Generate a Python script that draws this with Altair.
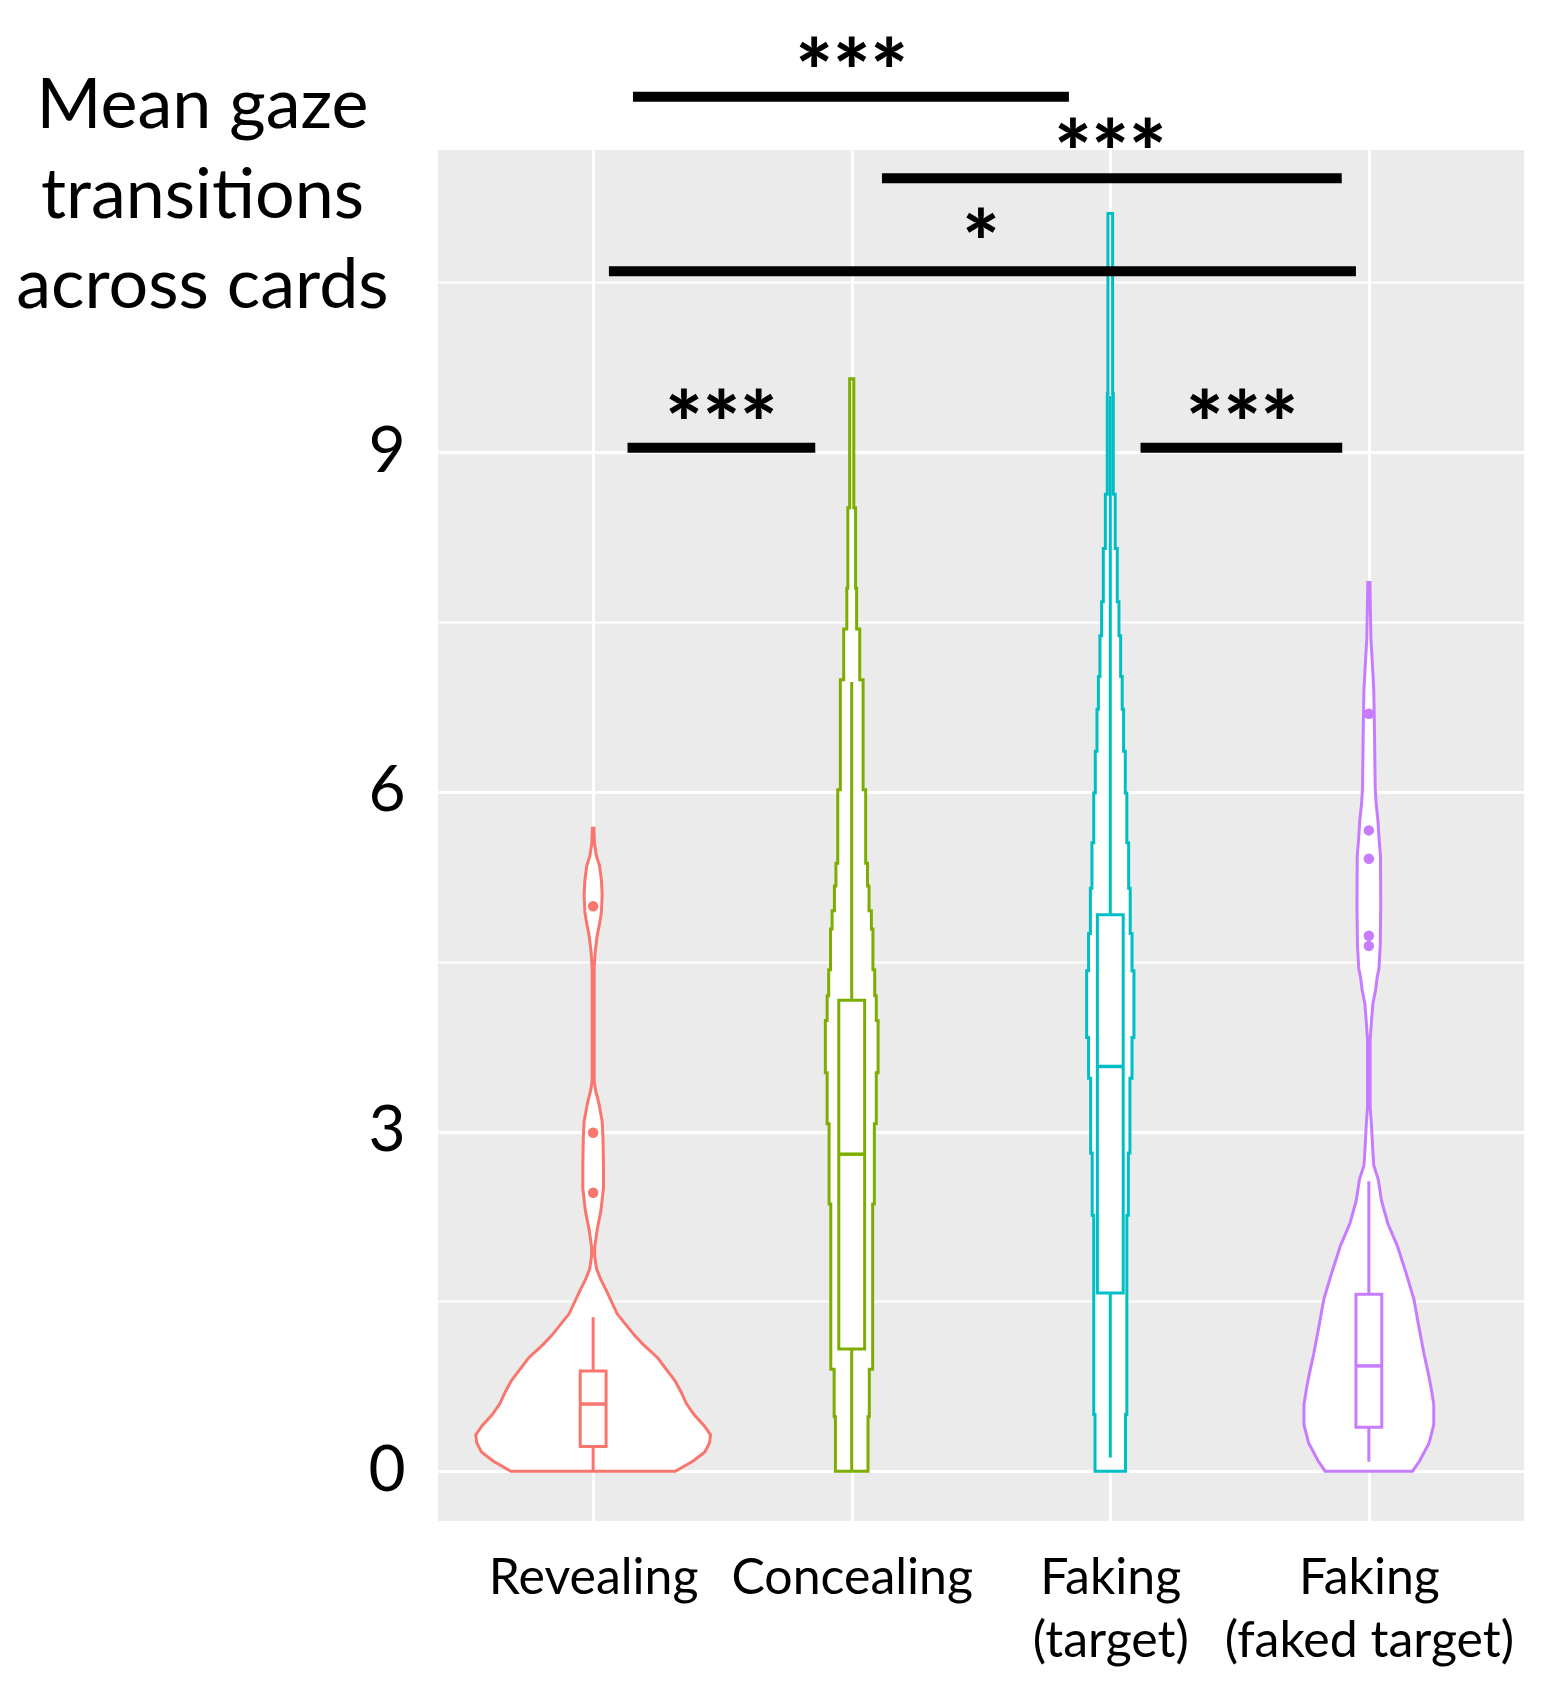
import json
import altair as alt
import pandas as pd

# ---------------- data ----------------
cat_keys = ["Revealing", "Concealing", "Faking (target)", "Faking (faked target)"]
cat_label_lines = [["Revealing"], ["Concealing"], ["Faking", "(target)"], ["Faking", "(faked target)"]]
cat_pos = [1, 2, 3, 4]
cat_colors = ["#F8766D", "#7CAE00", "#00BFC4", "#C77CFF"]

# violin outlines: value and half width (category-spacing units)
rev_y = [0.00, 0.09, 0.17, 0.25, 0.32, 0.40, 0.50, 0.60, 0.70, 0.80, 1.00, 1.12, 1.20, 1.39,
         1.59, 1.70, 1.79, 1.90, 1.98, 2.14, 2.30, 2.50, 2.70, 2.95, 3.09, 3.25, 3.37, 3.45,
         4.45, 4.59, 4.73, 4.85, 4.94, 5.09, 5.22, 5.35, 5.43, 5.55, 5.68]
rev_w = [0.318, 0.387, 0.432, 0.450, 0.454, 0.430, 0.390, 0.360, 0.340, 0.316, 0.250, 0.193, 0.160, 0.093,
         0.052, 0.028, 0.013, 0.006, 0.006, 0.016, 0.030, 0.040, 0.040, 0.038, 0.035, 0.022, 0.009, 0.004,
         0.004, 0.008, 0.0155, 0.026, 0.032, 0.035, 0.032, 0.0245, 0.013, 0.005, 0.003]

# stair-stepped outlines: interval edges and half width on each interval
con_edges = [0.00, 0.18, 0.48, 0.90, 2.36, 3.07, 3.52, 3.98, 4.20, 4.43, 4.79, 4.95, 5.17,
             5.37, 6.02, 6.99, 7.44, 7.80, 8.51, 9.65]
con_w = [0.063, 0.068, 0.081, 0.0875, 0.095, 0.102, 0.095, 0.089, 0.082, 0.076, 0.067, 0.061,
         0.054, 0.044, 0.031, 0.019, 0.015, 0.008, 0.004]

tgt_edges = [0.00, 0.24, 0.50, 2.26, 2.81, 3.47, 3.83, 4.42, 4.75, 5.15, 5.55, 5.99, 6.36,
             6.73, 7.02, 7.38, 7.68, 8.15, 8.63, 9.52, 11.11]
tgt_w = [0.059, 0.064, 0.070, 0.076, 0.084, 0.0915, 0.084, 0.077, 0.071, 0.064, 0.058, 0.0515,
         0.046, 0.040, 0.0335, 0.027, 0.019, 0.0116, 0.009, 0.005]

fak_y = [0.00, 0.09, 0.25, 0.41, 0.59, 0.72, 0.84, 1.04, 1.28, 1.52, 1.75, 1.99, 2.19, 2.39,
         2.58, 2.70, 2.82, 3.06, 3.22, 3.81, 3.97, 4.13, 4.25, 4.36, 4.44, 4.64, 5.00, 5.43,
         5.60, 5.75, 5.90, 6.04, 6.50, 6.90, 7.16, 7.35, 7.60, 7.85]
fak_w = [0.169, 0.196, 0.233, 0.251, 0.251, 0.242, 0.232, 0.213, 0.193, 0.174, 0.144, 0.110, 0.073, 0.049,
         0.036, 0.019, 0.0155, 0.010, 0.005, 0.005, 0.010, 0.0155, 0.026, 0.032, 0.039, 0.044, 0.046, 0.045,
         0.039, 0.035, 0.028, 0.0245, 0.022, 0.019, 0.013, 0.008, 0.006, 0.004]

# box plots
box_lo = [0.00, 0.00, 0.12, 0.083]
box_q1 = [0.217, 1.08, 1.575, 0.388]
box_med = [0.593, 2.80, 3.575, 0.93]
box_q3 = [0.886, 4.16, 4.916, 1.563]
box_hi = [1.36, 6.97, 9.50, 2.56]
box_half = 0.05

out_cat = ["Revealing", "Revealing", "Revealing",
           "Faking (faked target)", "Faking (faked target)", "Faking (faked target)",
           "Faking (faked target)", "Faking (faked target)"]
out_val = [2.46, 2.99, 4.99, 4.64, 4.73, 5.41, 5.66, 6.69]

# significance annotations
bar_x1 = [1.154, 2.117, 1.061, 1.133, 3.117]
bar_x2 = [2.840, 3.895, 3.950, 1.859, 3.897]
bar_y = [12.14, 11.42, 10.60, 9.04, 9.04]
star_text = ["***", "***", "*", "***", "***"]
star_x = [2.00, 3.00, 2.50, 1.496, 3.51]
star_y = [12.53, 11.81, 11.02, 9.42, 9.42]

y_title = ["Mean gaze", "transitions", "across cards"]
y_grid_values = [0, 1.5, 3, 4.5, 6, 7.5, 9, 10.5]

# ---------------- tables ----------------
pos_of = dict(zip(cat_keys, cat_pos))

smooth_rows = []
for cat, ys, ws in [(cat_keys[0], rev_y, rev_w), (cat_keys[3], fak_y, fak_w)]:
    for y, w in zip(ys, ws):
        smooth_rows.append({"cat": cat, "y": y, "w": w})
sv = pd.DataFrame(smooth_rows)

# step-after outline: each edge carries the width of the interval just below it
step_rows = []
for cat, edges, ws in [(cat_keys[1], con_edges, con_w), (cat_keys[2], tgt_edges, tgt_w)]:
    step_rows.append({"cat": cat, "y": edges[0], "w": ws[0]})
    for i, w in enumerate(ws):
        step_rows.append({"cat": cat, "y": edges[i + 1], "w": w})
tv = pd.DataFrame(step_rows)

for d in (sv, tv):
    d["left"] = d["cat"].map(pos_of) - d["w"]
    d["right"] = d["cat"].map(pos_of) + d["w"]

bdf = pd.DataFrame({"cat": cat_keys, "pos": cat_pos, "lo": box_lo, "q1": box_q1,
                    "med": box_med, "q3": box_q3, "hi": box_hi})
bdf["bl"] = bdf["pos"] - box_half
bdf["br"] = bdf["pos"] + box_half

odf = pd.DataFrame({"cat": out_cat, "val": out_val})
odf["pos"] = odf["cat"].map(pos_of)

sdf = pd.DataFrame({"x1": bar_x1, "x2": bar_x2, "y": bar_y})
tdf = pd.DataFrame({"x": star_x, "y": star_y, "t": star_text})

# ---------------- scales & axes ----------------
FONT = "Lato"
xscale = alt.Scale(domain=[0.4, 4.6], nice=False, zero=False)
yscale = alt.Scale(domain=[-0.44, 11.67], nice=False, zero=False)

label_expr = json.dumps(cat_label_lines) + "[round(datum.value) - 1]"
xaxis = alt.Axis(values=cat_pos, labelExpr=label_expr, grid=True, gridColor="white", gridWidth=3,
                 domain=False, ticks=False, tickSize=0, labelFont=FONT, labelFontSize=50,
                 labelColor="black", labelPadding=32, labelLineHeight=63, labelAngle=0,
                 labelBaseline="top", labelOverlap=False, labelBound=False, labelFlush=False,
                 labelLimit=0, title="")
yaxis = alt.Axis(values=y_grid_values,
                 labelExpr="datum.value % 3 == 0 ? format(datum.value, 'd') : ''",
                 grid=True, gridColor="white",
                 gridWidth={"condition": {"test": "datum.value % 3 == 0", "value": 3}, "value": 1.8},
                 domain=False, ticks=False, tickSize=0, labelFont=FONT, labelFontSize=64,
                 labelColor="black", labelPadding=33, labelOverlap=False, labelFlush=False,
                 title=y_title, titleFont=FONT, titleFontSize=70, titleFontWeight="normal",
                 titleColor="black", titleAngle=0, titleAlign="center", titleBaseline="alphabetic",
                 titleX=-236, titleY=-23, titleLineHeight=90, titleLimit=0)

stroke_scale = alt.Scale(domain=cat_keys, range=cat_colors)


def X(f):
    return alt.X(f, type="quantitative", scale=xscale, axis=xaxis)


def Y(f):
    return alt.Y(f, type="quantitative", scale=yscale, axis=yaxis)


SW = 3

violins_smooth = alt.Chart(sv).mark_area(orient="horizontal", fill="white", strokeWidth=SW,
                                         interpolate="linear").encode(
    y=Y("y"), x=X("left"), x2="right",
    stroke=alt.Stroke("cat:N", scale=stroke_scale, legend=None),
)

violins_step = alt.Chart(tv).mark_area(orient="horizontal", fill="white", strokeWidth=SW,
                                       interpolate="step-after").encode(
    y=Y("y"), x=X("left"), x2="right",
    stroke=alt.Stroke("cat:N", scale=stroke_scale, legend=None),
)

whiskers = alt.Chart(bdf).mark_rule(strokeWidth=SW).encode(
    x=X("pos"), y=Y("lo"), y2="hi",
    stroke=alt.Stroke("cat:N", scale=stroke_scale, legend=None),
)

boxes = alt.Chart(bdf).mark_rect(fill="white", strokeWidth=SW).encode(
    x=X("bl"), x2="br", y=Y("q1"), y2="q3",
    stroke=alt.Stroke("cat:N", scale=stroke_scale, legend=None),
)

medians = alt.Chart(bdf).mark_rule(strokeWidth=SW + 0.5).encode(
    x=X("bl"), x2="br", y=Y("med"),
    stroke=alt.Stroke("cat:N", scale=stroke_scale, legend=None),
)

outliers = alt.Chart(odf).mark_circle(size=110, opacity=1).encode(
    x=X("pos"), y=Y("val"),
    color=alt.Color("cat:N", scale=stroke_scale, legend=None),
)

bars = alt.Chart(sdf).mark_rule(strokeWidth=10, color="black", strokeCap="butt").encode(
    x=X("x1"), x2="x2", y=Y("y"),
)

stars = alt.Chart(tdf).mark_text(font=FONT, fontSize=88, fontWeight=900, color="black",
                                 baseline="middle", align="center", dy=24).encode(
    x=X("x"), y=Y("y"), text="t:N",
)

chart = alt.layer(violins_smooth, violins_step, whiskers, boxes, medians, outliers, bars, stars).properties(
    width=1086, height=1371,
    autosize=alt.AutoSizeParams(type="none"),
    padding={"left": 430, "top": 142, "right": 34, "bottom": 165},
).configure_view(fill="#EBEBEB", strokeWidth=0)

chart.save("out.html", embed_options={"renderer": "svg", "actions": False})
